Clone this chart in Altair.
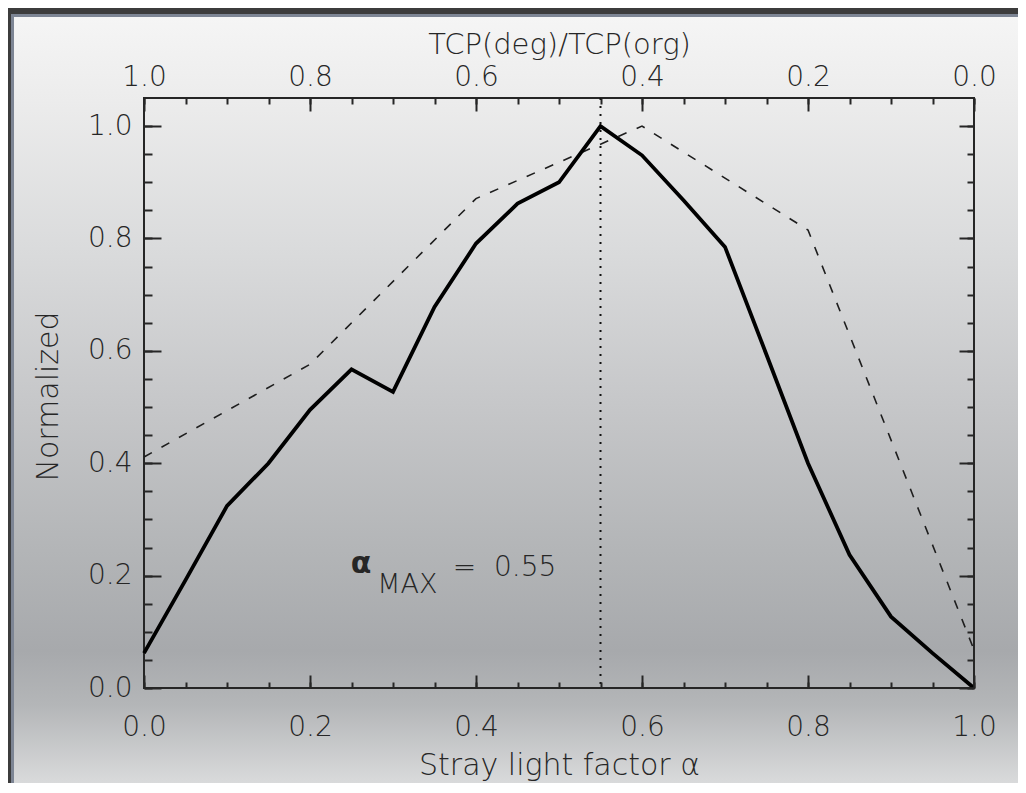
import altair as alt
import pandas as pd

# ---- data ----
alpha_solid = [0.00, 0.05, 0.10, 0.15, 0.20, 0.25, 0.30, 0.35, 0.40, 0.45, 0.50,
               0.55, 0.60, 0.65, 0.70, 0.75, 0.80, 0.85, 0.90, 0.95, 1.00]
norm_solid = [0.062, 0.192, 0.324, 0.400, 0.495, 0.567, 0.527, 0.678, 0.791, 0.862, 0.900,
              1.000, 0.948, 0.868, 0.785, 0.593, 0.400, 0.237, 0.127, 0.062, 0.000]
alpha_dashed = [0.0, 0.2, 0.4, 0.6, 0.8, 1.0]
norm_dashed = [0.411, 0.576, 0.871, 1.000, 0.815, 0.068]
alpha_max = [0.55]
ann_alpha = ["α"]
ann_sub = ["MAX"]
ann_value = ["=\u00a0\u00a00.55"]

x_major = [0.0, 0.2, 0.4, 0.6, 0.8, 1.0]
x_minor = [0.0, 0.05, 0.1, 0.15, 0.2, 0.25, 0.3, 0.35, 0.4, 0.45, 0.5,
           0.55, 0.6, 0.65, 0.7, 0.75, 0.8, 0.85, 0.9, 0.95, 1.0]
y_major = [0.0, 0.2, 0.4, 0.6, 0.8, 1.0]
y_minor = [0.0, 0.05, 0.1, 0.15, 0.2, 0.25, 0.3, 0.35, 0.4, 0.45, 0.5,
           0.55, 0.6, 0.65, 0.7, 0.75, 0.8, 0.85, 0.9, 0.95, 1.0]

df_solid = pd.DataFrame({"alpha": alpha_solid, "norm": norm_solid})
df_dash = pd.DataFrame({"alpha": alpha_dashed, "norm": norm_dashed})
df_max = pd.DataFrame({"alpha": alpha_max})
one = pd.DataFrame({"k": [0]})

# ---- style ----
W, H = 830, 590
PAD = {"left": 136, "top": 90, "right": 44, "bottom": 95}
FONT = "DejaVu Sans"
WEIGHT = 300
INK = "#262626"

xs = alt.Scale(domain=[0, 1], nice=False, zero=False)
ys = alt.Scale(domain=[0, 1.05], nice=False, zero=False)


def tick_axis(orient, values, size):
    return alt.Axis(orient=orient, values=values, tickSize=size, offset=-size,
                    labels=False, domain=False, grid=False, ticks=True, title=None,
                    tickColor=INK, tickWidth=2, zindex=1)


lab_common = dict(ticks=False, domain=False, grid=False, labelFont=FONT,
                  labelFontSize=28, labelFontWeight=WEIGHT, labelColor=INK, labelFlush=False,
                  labelOverlap=False, titleFont=FONT,
                  titleFontWeight=WEIGHT, titleColor=INK,
                  titleBaseline="alphabetic", titleAlign="center", zindex=1)

x_bottom_lab = alt.Axis(orient="bottom", values=x_major, format=".1f", labelPadding=25,
                        title="Stray light factor α", titleFontSize=30,
                        titleX=W / 2, titleY=86, **lab_common)
x_top_lab = alt.Axis(orient="top", values=x_major, labelExpr="format(1 - datum.value, '.1f')",
                     labelPadding=7, title="TCP(deg)/TCP(org)", titleFontSize=29,
                     titleX=W / 2, titleY=-45, **lab_common)
y_left_lab = alt.Axis(orient="left", values=y_major, format=".1f", labelPadding=12,
                      title="Normalized", titleFontSize=30, titleX=-87, titleY=298,
                      titleAngle=270, **lab_common)

gradient = alt.LinearGradient(
    gradient="linear", x1=0, x2=0, y1=0, y2=1,
    stops=[
        alt.GradientStop(color="#f6f6f6", offset=0.0),
        alt.GradientStop(color="#ececec", offset=0.12),
        alt.GradientStop(color="#dadbdc", offset=0.31),
        alt.GradientStop(color="#c6c7c9", offset=0.51),
        alt.GradientStop(color="#b3b5b7", offset=0.70),
        alt.GradientStop(color="#a7a9ac", offset=0.83),
        alt.GradientStop(color="#b4b6b8", offset=0.90),
        alt.GradientStop(color="#d9dadb", offset=1.0),
    ],
)

bg = alt.Chart(one).mark_rect(fill=gradient).encode(
    x=alt.value(-PAD["left"]), x2=alt.value(W + PAD["right"]),
    y=alt.value(-PAD["top"]), y2=alt.value(H + PAD["bottom"]))

top_band = alt.Chart(one).mark_rect(color="#3c3c3c").encode(
    x=alt.value(-PAD["left"]), x2=alt.value(W + PAD["right"]),
    y=alt.value(-PAD["top"]), y2=alt.value(-PAD["top"] + 6))
top_line = alt.Chart(one).mark_rect(color="#7d8594").encode(
    x=alt.value(-PAD["left"]), x2=alt.value(W + PAD["right"]),
    y=alt.value(-PAD["top"] + 6), y2=alt.value(-PAD["top"] + 9))
left_band = alt.Chart(one).mark_rect(color="#3c3c3c").encode(
    x=alt.value(-PAD["left"]), x2=alt.value(-PAD["left"] + 3),
    y=alt.value(-PAD["top"]), y2=alt.value(H + PAD["bottom"]))
left_line = alt.Chart(one).mark_rect(color="#7d8594").encode(
    x=alt.value(-PAD["left"] + 3), x2=alt.value(-PAD["left"] + 6),
    y=alt.value(-PAD["top"] + 6), y2=alt.value(H + PAD["bottom"]))

frame = alt.Chart(one).mark_rect(fillOpacity=0, stroke=INK, strokeWidth=2).encode(
    x=alt.value(0), x2=alt.value(W), y=alt.value(0), y2=alt.value(H))

dashed = alt.Chart(df_dash).mark_line(color="#1e1e1e", strokeWidth=1.6, strokeDash=[9, 11]).encode(
    x=alt.X("alpha:Q", scale=xs, axis=tick_axis("bottom", x_major, 13)),
    y=alt.Y("norm:Q", scale=ys, axis=tick_axis("left", y_major, 17)))

solid = alt.Chart(df_solid).mark_line(color="#000000", strokeWidth=3.8).encode(
    x=alt.X("alpha:Q", scale=xs, axis=x_bottom_lab),
    y=alt.Y("norm:Q", scale=ys, axis=y_left_lab))

rule = alt.Chart(df_max).mark_rule(color="#111111", strokeWidth=2, strokeDash=[2, 6]).encode(
    x=alt.X("alpha:Q", scale=xs, axis=tick_axis("bottom", x_minor, 6)))

ax1 = alt.Chart(df_solid).mark_line(opacity=0).encode(
    x=alt.X("alpha:Q", scale=xs, axis=x_top_lab),
    y=alt.Y("norm:Q", scale=ys, axis=tick_axis("left", y_minor, 8)))
ax2 = alt.Chart(df_solid).mark_line(opacity=0).encode(
    x=alt.X("alpha:Q", scale=xs, axis=tick_axis("top", x_major, 13)),
    y=alt.Y("norm:Q", scale=ys, axis=tick_axis("right", y_major, 15)))
ax3 = alt.Chart(df_solid).mark_line(opacity=0).encode(
    x=alt.X("alpha:Q", scale=xs, axis=tick_axis("top", x_minor, 6)),
    y=alt.Y("norm:Q", scale=ys, axis=tick_axis("right", y_minor, 7)))

# annotation "α_MAX = 0.55" (anchor positions in data units)
t_alpha = alt.Chart(pd.DataFrame({"t": ann_alpha, "x": [0.249], "y": [0.205]})).mark_text(
    font=FONT, fontSize=30, fontWeight="bold", color=INK, align="left", baseline="alphabetic"
).encode(x=alt.X("x:Q", scale=xs, axis=None), y=alt.Y("y:Q", scale=ys, axis=None), text="t:N")
t_sub = alt.Chart(pd.DataFrame({"t": ann_sub, "x": [0.281], "y": [0.169]})).mark_text(
    font=FONT, fontSize=27, fontWeight=WEIGHT, color=INK, align="left", baseline="alphabetic"
).encode(x=alt.X("x:Q", scale=xs, axis=None), y=alt.Y("y:Q", scale=ys, axis=None), text="t:N")
t_val = alt.Chart(pd.DataFrame({"t": ann_value, "x": [0.372], "y": [0.199]})).mark_text(
    font=FONT, fontSize=28, fontWeight=WEIGHT, color=INK, align="left", baseline="alphabetic"
).encode(x=alt.X("x:Q", scale=xs, axis=None), y=alt.Y("y:Q", scale=ys, axis=None), text="t:N")

chart = alt.layer(
    bg, top_band, top_line, left_band, left_line, frame,
    dashed, solid, rule, t_alpha, t_sub, t_val, ax1, ax2, ax3
).resolve_axis(x="independent", y="independent").properties(
    width=W, height=H,
    autosize=alt.AutoSizeParams(type="none"),
    padding=PAD,
).configure_view(stroke="transparent")

chart.save("out.html", embed_options={"renderer": "svg", "actions": False})
